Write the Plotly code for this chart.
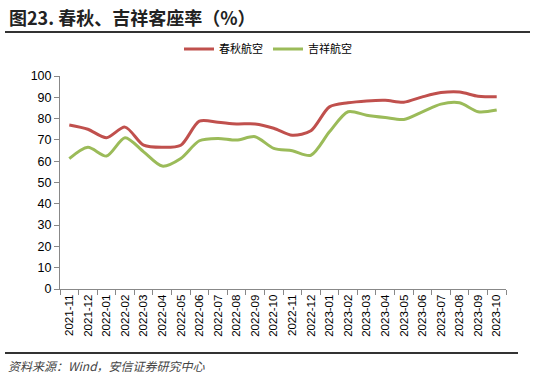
import plotly.graph_objects as go

months = ["2021-11", "2021-12", "2022-01", "2022-02", "2022-03", "2022-04", "2022-05", "2022-06",
          "2022-07", "2022-08", "2022-09", "2022-10", "2022-11", "2022-12", "2023-01", "2023-02",
          "2023-03", "2023-04", "2023-05", "2023-06", "2023-07", "2023-08", "2023-09", "2023-10"]
spring = [77.0, 75.0, 71.0, 76.0, 67.5, 66.5, 67.5, 78.8, 78.3, 77.5, 77.5, 75.5,
          72.2, 74.3, 85.5, 87.4, 88.3, 88.6, 87.7, 90.2, 92.2, 92.5, 90.5, 90.2]
juneyao = [61.2, 66.5, 62.4, 71.0, 64.4, 57.7, 61.3, 69.6, 70.7, 69.9, 71.5, 66.0,
           64.9, 62.8, 73.8, 83.2, 81.6, 80.5, 79.6, 83.2, 86.8, 87.4, 83.2, 84.0]
yticks = [0, 10, 20, 30, 40, 50, 60, 70, 80, 90, 100]

W, H = 535, 378
L, R, T, B = 60, 506, 76, 289

def px(x):
    return (x - L) / (R - L)

def py(y):
    return (B - y) / (B - T)

fig = go.Figure()
fig.add_trace(go.Scatter(x=months, y=spring, name="春秋航空", mode="lines",
                         line=dict(color="#C0504D", width=3, shape="spline", smoothing=0.8)))
fig.add_trace(go.Scatter(x=months, y=juneyao, name="吉祥航空", mode="lines",
                         line=dict(color="#9BBB59", width=3, shape="spline", smoothing=0.8)))

fig.update_layout(
    width=W, height=H,
    margin=dict(l=L, r=W - R, t=T, b=H - B, pad=0),
    paper_bgcolor="white", plot_bgcolor="white",
    font=dict(family="Liberation Sans, Arial, sans-serif", size=12, color="#000000"),
    showlegend=True,
    legend=dict(orientation="h", x=px(268), xanchor="center", y=py(49), yanchor="middle",
                font=dict(family="Noto Sans CJK SC", size=11, color="#000"),
                itemwidth=30, tracegroupgap=0, bgcolor="rgba(0,0,0,0)"),
    xaxis=dict(type="category", tickson="boundaries", ticks="outside", ticklen=5,
               tickcolor="#888", showline=True, linecolor="#888", linewidth=1,
               showgrid=False, tickangle=-90, tickfont=dict(size=11.5),
               range=[-0.5, len(months) - 0.5]),
    yaxis=dict(range=[0, 100], tickvals=yticks, ticks="outside", ticklen=5,
               tickcolor="#888", showline=True, linecolor="#888", linewidth=1,
               showgrid=False, zeroline=False, tickfont=dict(size=12.5)),
)

fig.add_annotation(text="<b>图23. 春秋、吉祥客座率（%）</b>", xref="paper", yref="paper",
                   x=px(7), y=py(17), xanchor="left", yanchor="middle", showarrow=False,
                   font=dict(family="Noto Sans CJK SC", size=18, color="#222"))
fig.add_annotation(text="<i>资料来源：Wind，安信证券研究中心</i>", xref="paper", yref="paper",
                   x=px(6), y=py(365), xanchor="left", yanchor="middle", showarrow=False,
                   font=dict(family="Noto Sans CJK SC", size=12, color="#444"))
fig.add_shape(type="line", xref="paper", yref="paper", x0=px(5), x1=px(530), y0=py(32), y1=py(32),
              line=dict(color="#333", width=2))
fig.add_shape(type="line", xref="paper", yref="paper", x0=px(5), x1=px(518), y0=py(353), y1=py(353),
              line=dict(color="#333", width=2))

fig.write_html("out.html", config={"displayModeBar": False},
               post_script="document.body.style.margin='0';")
